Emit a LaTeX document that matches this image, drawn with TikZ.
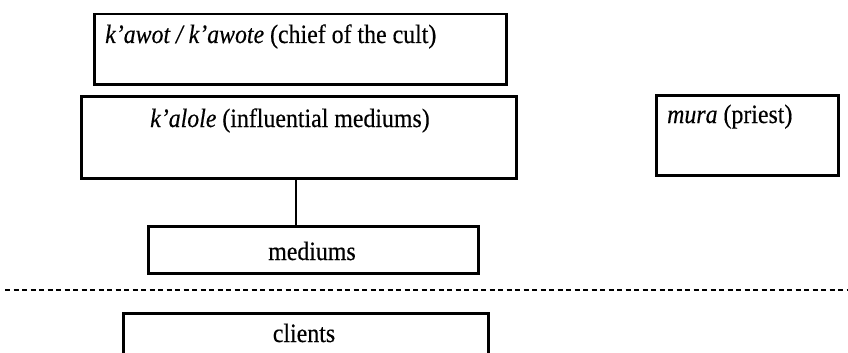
\documentclass[tikz,border=0pt]{standalone}
\usepackage{fontspec}
\setmainfont{Liberation Serif}[FakeStretch=0.9, FakeBold=0.4]
\usetikzlibrary{positioning}

\begin{document}
\begin{tikzpicture}[
  x=1pt, y=-1pt,
  box/.style={draw, line width=2.5pt, inner sep=0pt, anchor=north west},
  lbl/.style={inner sep=0pt, anchor=base west, font=\fontsize{26.5}{30}\selectfont},
  link/.style={line width=1.1pt},
  sepline/.style={line width=1.6pt, dash pattern=on 5pt off 3.5pt}
]
\useasboundingbox (0,0) rectangle (848,353);

% boxes
\node[box, minimum width=412pt, minimum height=70pt] (kawot) at (93,13) {};
\node[box, minimum width=435pt, minimum height=82pt] (kalole) at (80,95) {};
\node[box, minimum width=182pt, minimum height=80pt] (mura) at (655,94) {};
\node[box, minimum width=330pt, minimum height=47pt] (mediums) at (147,225) {};
\node[box, minimum width=365pt, minimum height=70pt] (clients) at (122,312) {};

% texts
\node[lbl] (kawottxt) at (105,43) {\textit{k'awot / k'awote} (chief of the cult)};
\node[lbl] (kaloletxt) at (150,127) {\textit{k'alole} (influential mediums)};
\node[lbl] (muratxt) at (667,123) {\textit{mura} (priest)};
\node[lbl, anchor=base] (mediumstxt) at (312,260) {mediums};
\node[lbl, anchor=base] (clientstxt) at (304,342) {clients};

% connector and separator
\coordinate (cx) at (296,0);
\draw[link] (kalole.south -| cx) -- (mediums.north -| cx);
\coordinate (sepL) at (5,290);
\coordinate (sepR) at (848,290);
\draw[sepline] (sepL) -- (sepR);
\end{tikzpicture}
\end{document}
